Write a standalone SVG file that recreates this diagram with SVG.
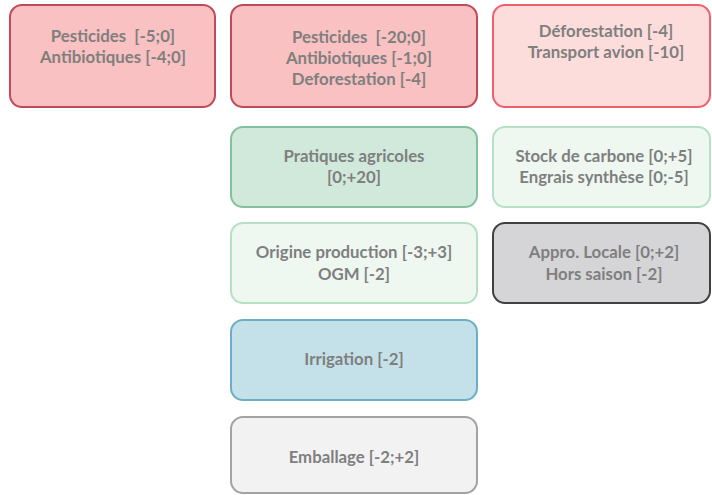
<svg xmlns="http://www.w3.org/2000/svg" width="712" height="495" viewBox="0 0 712 495">
<style>
.b{stroke-width:2}
text{font-family:Lato,"Open Sans","Liberation Sans",sans-serif;font-weight:bold;font-size:16.8px;fill:#7f7f7f;text-anchor:middle}
</style>
<rect width="712" height="495" fill="#ffffff"/>
<g id="n1"><rect class="b" x="10" y="5" width="205" height="102" rx="12" fill="#f9c1c1" stroke="#bf4b5a"/>
<text x="113" y="42" xml:space="preserve">Pesticides  [-5;0]</text><text x="113" y="63">Antibiotiques [-4;0]</text></g>
<g id="n2"><rect class="b" x="231" y="5" width="246" height="102" rx="12" fill="#f9c1c1" stroke="#bf4b5a"/>
<text x="359" y="43" xml:space="preserve">Pesticides  [-20;0]</text><text x="359" y="64">Antibiotiques [-1;0]</text><text x="359" y="85">Deforestation [-4]</text></g>
<g id="n3"><rect class="b" x="493" y="5" width="217" height="102" rx="12" fill="#fddcdc" stroke="#f0606c"/>
<text x="606" y="37">Déforestation [-4]</text><text x="606" y="58">Transport avion [-10]</text></g>
<g id="n4"><rect class="b" x="231" y="127" width="246" height="80" rx="12" fill="#d0e9da" stroke="#85c09e"/>
<text x="354" y="162">Pratiques agricoles</text><text x="354" y="183">[0;+20]</text></g>
<g id="n5"><rect class="b" x="493" y="127" width="217" height="80" rx="12" fill="#eef8f1" stroke="#b5e0c4"/>
<text x="604" y="162">Stock de carbone [0;+5]</text><text x="604" y="183">Engrais synthèse [0;-5]</text></g>
<g id="n6"><rect class="b" x="231" y="223" width="246" height="80" rx="12" fill="#eef8f1" stroke="#b5e0c4"/>
<text x="354" y="258">Origine production [-3;+3]</text><text x="354" y="280">OGM [-2]</text></g>
<g id="n7"><rect class="b" x="493" y="223" width="217" height="80" rx="12" fill="#d5d5d7" stroke="#404040"/>
<text x="604" y="258">Appro. Locale [0;+2]</text><text x="604" y="280">Hors saison [-2]</text></g>
<g id="n8"><rect class="b" x="231" y="320" width="246" height="80" rx="12" fill="#c4e1e9" stroke="#6cafc4"/>
<text x="354" y="365">Irrigation [-2]</text></g>
<g id="n9"><rect class="b" x="231" y="417" width="246" height="76" rx="12" fill="#f2f2f2" stroke="#a3a3a3"/>
<text x="354" y="463">Emballage [-2;+2]</text></g>
<g id="connectors"></g>
</svg>
